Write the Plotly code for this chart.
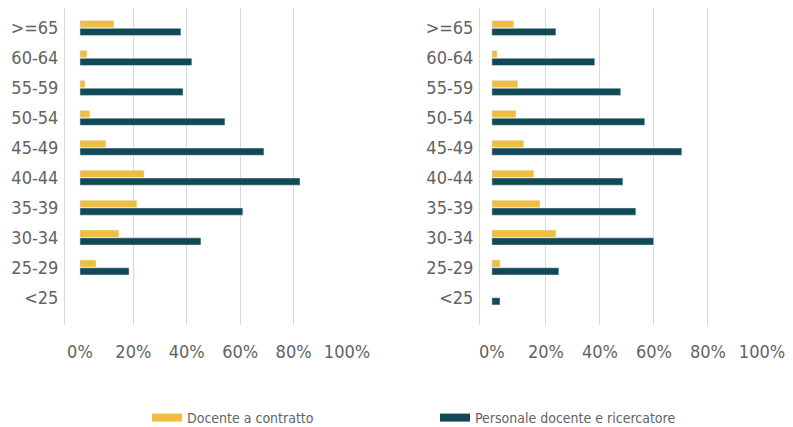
import plotly.graph_objects as go

# age classes, bottom to top
age_classes = ['<25', '25-29', '30-34', '35-39', '40-44', '45-49', '50-54', '55-59', '60-64', '>=65']
tick_vals = [0, 20, 40, 60, 80, 100]
tick_text = ['0%', '20%', '40%', '60%', '80%', '100%']

# left panel (%), None = no bar
left_contratto = [None, 6.0, 14.6, 21.3, 24.0, 9.7, 3.7, 1.9, 2.6, 12.7]
left_personale = [None, 18.4, 45.3, 61.0, 82.4, 68.9, 54.3, 38.6, 41.9, 37.8]

# right panel (%)
right_contratto = [None, 3.0, 23.7, 17.8, 15.5, 11.8, 8.9, 9.6, 1.9, 8.1]
right_personale = [3.0, 24.8, 59.9, 53.3, 48.5, 70.3, 56.6, 47.7, 38.1, 23.7]

YELLOW = '#EFBD40'
TEAL = '#124957'
GREY = '#636363'
GRID = '#D9D9D9'
FONT = 'DejaVu Sans Condensed, Roboto, sans-serif'

# page body has an 8px margin, so the figure is sized to fill the rest
W, H = 785, 419

fig = go.Figure()

for xa, ya, contratto, personale in [('x', 'y', left_contratto, left_personale),
                                     ('x2', 'y2', right_contratto, right_personale)]:
    # teal first so it sits below the yellow bar in each group
    fig.add_trace(go.Bar(y=age_classes, x=personale, orientation='h',
                         marker_color=TEAL, showlegend=False, xaxis=xa, yaxis=ya))
    fig.add_trace(go.Bar(y=age_classes, x=contratto, orientation='h',
                         marker_color=YELLOW, showlegend=False, xaxis=xa, yaxis=ya))

# legend entries drawn as thick short lines, one legend each
fig.add_trace(go.Scatter(x=[None], y=[None], mode='lines', name='Docente a contratto',
                         line=dict(color=YELLOW, width=8), legend='legend'))
fig.add_trace(go.Scatter(x=[None], y=[None], mode='lines', name='Personale docente e ricercatore',
                         line=dict(color=TEAL, width=8), legend='legend2'))

xaxis_style = dict(
    tickvals=tick_vals,
    ticktext=tick_text,
    showgrid=True,
    gridcolor=GRID,
    gridwidth=1,
    zeroline=True,
    zerolinecolor='white',
    showline=False,
    ticks='',
    ticklabelstandoff=14,
    tickfont=dict(family=FONT, size=18, color=GREY),
    fixedrange=True,
    automargin=False,
)
yaxis_style = dict(
    type='category',
    categoryorder='array',
    categoryarray=age_classes,
    range=[-0.92, 9.67],
    domain=[1 - 317 / H, 1],
    showline=True,
    linecolor=GRID,
    linewidth=1,
    showgrid=False,
    ticks='',
    ticklabelstandoff=2,
    tickfont=dict(family=FONT, size=18, color=GREY),
    automargin=False,
)

legend_style = dict(
    orientation='h',
    xanchor='left',
    y=1 - 410 / H,
    yanchor='middle',
    font=dict(family=FONT, size=14, color=GREY),
    bgcolor='rgba(0,0,0,0)',
)

fig.update_layout(
    width=W,
    height=H,
    margin=dict(l=0, r=0, t=0, b=0, autoexpand=False),
    paper_bgcolor='white',
    plot_bgcolor='white',
    barmode='group',
    bargap=0.48,
    bargroupgap=0.07,
    xaxis=dict(domain=[57 / W, 339 / W], anchor='y', range=[-5.6, 100], **xaxis_style),
    yaxis=dict(anchor='x', **yaxis_style),
    xaxis2=dict(domain=[472 / W, 754 / W], anchor='y2', range=[-4.4, 100], **xaxis_style),
    yaxis2=dict(anchor='x2', **yaxis_style),
    showlegend=True,
    legend=dict(x=139 / W, **legend_style),
    legend2=dict(x=427 / W, **legend_style),
)

fig.write_html("out.html")
